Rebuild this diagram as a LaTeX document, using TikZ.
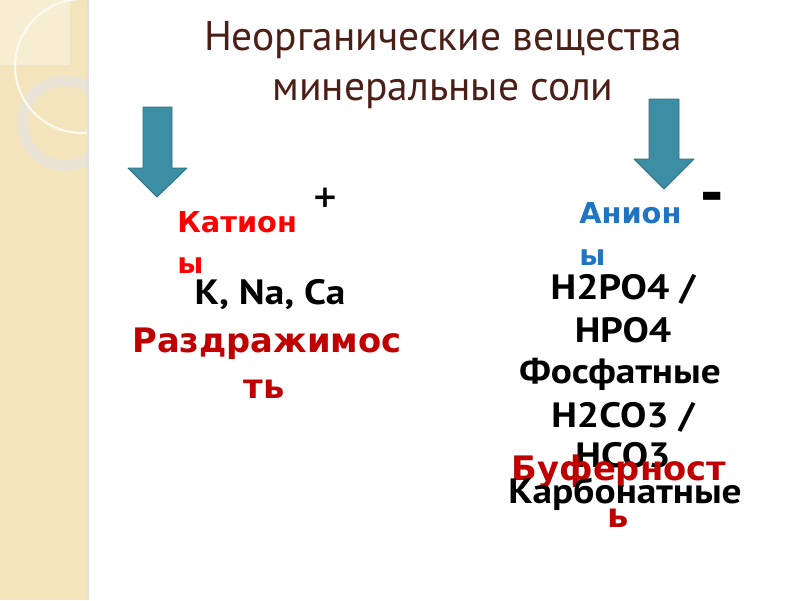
\documentclass[tikz,border=0pt]{standalone}
\usepackage{fontspec}
\usepackage{xcolor}
\setmainfont{PT Sans}
\newfontfamily\boldface{DejaVu Sans}
\newfontfamily\formulaface[FakeStretch=1.12]{PT Sans}

\definecolor{stripbeige}{HTML}{F3E4BC}
\definecolor{striplight}{HTML}{F7EDD2}
\definecolor{ringgray}{HTML}{E8E3D4}
\definecolor{titlebrown}{HTML}{4B1E16}
\definecolor{arrowteal}{HTML}{3B8EA3}
\definecolor{arrowedge}{HTML}{2D6F80}
\definecolor{darkred}{HTML}{C00000}
\definecolor{anionblue}{HTML}{1F74C3}

\tikzset{
  title/.style={text=titlebrown, font=\fontsize{29.5}{32}\selectfont, inner sep=0pt},
  ionname/.style={font=\boldface\bfseries\fontsize{20.5}{24}\selectfont, inner sep=0pt},
  formula/.style={font=\formulaface\bfseries\fontsize{25}{30}\selectfont, inner sep=0pt},
  property/.style={text=darkred, font=\boldface\bfseries\fontsize{24}{28}\selectfont, inner sep=0pt},
  blockarrow/.style={fill=arrowteal, draw=arrowedge, line width=0.6pt, line join=round}
}

\begin{document}
\begin{tikzpicture}[x=0.025cm, y=-0.025cm]
    \useasboundingbox (0,0) rectangle (800,600);

    % Left strip
    \fill[stripbeige] (0,0) rectangle (88,600);
    \begin{scope}
        \clip (0,0) rectangle (88,600);
        \fill[striplight] (0,0) rectangle (70,65);
        \fill[ringgray, even odd rule] (65,123) circle (48) (65,123) circle (37);
        \draw[white!80!stripbeige, line width=1.5pt] (82,66) circle (67);
    \end{scope}
    \draw[black!12, line width=0.8pt] (88,0) -- (88,600);

    % Title
    \node[title, anchor=base] (line1) at (443,50) {Неорганические вещества};
    \node[title, anchor=base] (line2) at (443,100) {минеральные соли};

    % Arrows
    \filldraw[blockarrow] (143,107) -- (172,107) -- (172,168) -- (187,168)
        -- (157,197) -- (128,168) -- (143,168) -- cycle;
    \filldraw[blockarrow] (649,99) -- (679,99) -- (679,159) -- (694,159)
        -- (664,189) -- (634,159) -- (649,159) -- cycle;

    % Cations
    \node[ionname, text=red, anchor=base west] (cat1) at (177,232) {Катион};
    \node[ionname, text=red, anchor=base west] (cat2) at (177,273) {ы};
    \node[font=\boldface\bfseries\fontsize{22}{24}\selectfont, inner sep=0pt] (plus) at (325,198) {+};
    \node[formula, anchor=base] (metals) at (270,304) {K, Na, Ca};
    \node[property, anchor=base] (irr1) at (267,352) {Раздражимос};
    \node[property, anchor=base] (irr2) at (264,398) {ть};

    % Anions
    \node[ionname, text=anionblue, anchor=base west] (an1) at (579,223) {Анион};
    \node[ionname, text=anionblue, anchor=base west] (an2) at (579,265) {ы};
    \node[font=\boldface\bfseries\fontsize{40}{40}\selectfont, inner sep=0pt] (minus) at (712,202) {-};
    \node[formula, anchor=base] (ph1) at (623,299) {H2PO4 /};
    \node[formula, anchor=base] (ph2) at (623,342) {HPO4};
    \node[formula, anchor=base] (ph3) at (620,383) {Фосфатные};
    \node[formula, anchor=base] (cb1) at (623,427) {H2CO3 /};
    \node[formula, anchor=base] (cb2) at (623,467) {HCO3};
    \node[property, anchor=base] (buf1) at (619,480) {Буферност};
    \node[formula, anchor=base] (cb3) at (625,503) {Карбонатные};
    \node[property, anchor=base] (buf2) at (618,527) {ь};
\end{tikzpicture}
\end{document}
